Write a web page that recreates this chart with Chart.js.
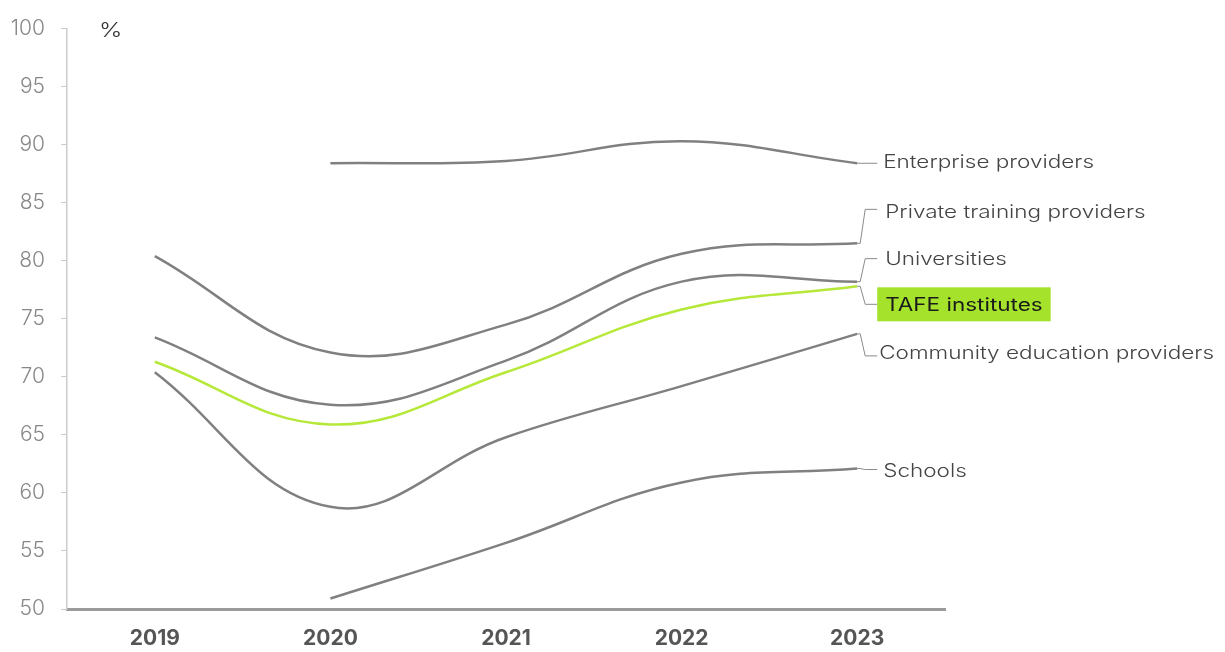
<!DOCTYPE html>
<html>
<head>
<meta charset="utf-8">
<script src="https://cdn.jsdelivr.net/npm/chart.js@4.4.1/dist/chart.umd.min.js"></script>
<style>
  html, body { margin: 0; padding: 0; background: #ffffff; }
  #wrap { position: relative; width: 1225px; height: 652px; }
</style>
</head>
<body>
<div id="wrap"><canvas id="c" width="1225" height="652"></canvas></div>
<script>
// ---- data ----
const years = ['2019', '2020', '2021', '2022', '2023'];
const enterprise = [null, 88.4, 88.6, 90.3, 88.4];
const privateTraining = [80.4, 72.1, 74.5, 80.6, 81.5];
const universities = [73.4, 67.6, 71.4, 78.2, 78.2];
const tafe = [71.3, 65.9, 70.4, 75.8, 77.8];
const community = [70.4, 58.8, 64.8, 69.2, 73.7];
const schools = [null, 50.9, 55.7, 60.9, 62.1];
const seriesNames = ['Enterprise providers', 'Private training providers', 'Universities', 'TAFE institutes', 'Community education providers', 'Schools'];
const yTicks = [50, 55, 60, 65, 70, 75, 80, 85, 90, 95, 100];

// ---- styling (not data) ----
const GREY = '#808080';
const GREEN = '#b6e83a';
const FONT = 'Inter, "Open Sans", sans-serif';
const TEXT_STRETCH = 1.25;
// label placement relative to line end: leader dy, text dy, text x offset
const labelLayout = [
  { dy: 0,   ty: -1, tx: 26 },
  { dy: -34, ty: -31, tx: 28 },
  { dy: -23, ty: -22, tx: 28 },
  { dy: 18,  ty: 18, tx: 28, box: true },
  { dy: 22,  ty: 20, tx: 22 },
  { dy: 1,   ty: 3, tx: 26 }
];

const seriesData = [enterprise, privateTraining, universities, tafe, community, schools];

function stretchedText(ctx, text, x, y) {
  ctx.save();
  ctx.translate(x, y);
  ctx.scale(TEXT_STRETCH, 1);
  ctx.fillText(text, 0, 0);
  ctx.restore();
}

const labelPlugin = {
  id: 'endLabels',
  afterDatasetsDraw(chart) {
    const ctx = chart.ctx;
    ctx.save();
    chart.data.datasets.forEach((ds, i) => {
      const meta = chart.getDatasetMeta(i);
      const pt = meta.data[meta.data.length - 1];
      const x0 = pt.x, y0 = pt.y;
      const L = labelLayout[i];
      ctx.strokeStyle = '#8a8a8a';
      ctx.lineWidth = 1;
      ctx.beginPath();
      ctx.moveTo(x0, y0);
      ctx.lineTo(x0 + 3, y0);
      ctx.lineTo(x0 + 8, y0 + L.dy);
      ctx.lineTo(x0 + 20, y0 + L.dy);
      ctx.stroke();
      ctx.textBaseline = 'middle';
      ctx.textAlign = 'left';
      const tx = x0 + L.tx, ty = y0 + L.ty;
      if (L.box) {
        ctx.font = '400 18px ' + FONT;
        const w = ctx.measureText(seriesNames[i]).width * TEXT_STRETCH;
        ctx.fillStyle = '#a5e22c';
        ctx.fillRect(x0 + 20, ty - 17, w + 16, 34);
        ctx.fillStyle = '#1a1a1a';
        stretchedText(ctx, seriesNames[i], tx, ty + 1);
      } else {
        ctx.font = '300 18px ' + FONT;
        ctx.fillStyle = '#444';
        stretchedText(ctx, seriesNames[i], tx, ty);
      }
    });
    // percent sign
    ctx.font = '300 20px ' + FONT;
    ctx.fillStyle = '#333';
    ctx.textAlign = 'left';
    ctx.textBaseline = 'middle';
    stretchedText(ctx, '%', 99, 31);
    ctx.restore();
  }
};

new Chart(document.getElementById('c'), {
  type: 'line',
  data: {
    labels: years,
    datasets: seriesData.map((d, i) => ({
      label: seriesNames[i],
      data: d,
      borderColor: i === 3 ? GREEN : GREY,
      borderWidth: 2.5,
      pointRadius: 0,
      pointHoverRadius: 0,
      tension: 0.4,
      fill: false,
      order: i === 3 ? 0 : 1
    }))
  },
  options: {
    responsive: false,
    animation: false,
    events: [],
    layout: { padding: { left: 0, right: 280, top: 23, bottom: 0 } },
    plugins: { legend: { display: false }, tooltip: { enabled: false } },
    scales: {
      x: {
        type: 'category',
        offset: true,
        grid: { display: false, drawTicks: false },
        border: { display: true, color: '#9a9a9a', width: 3 },
        ticks: { color: '#555', font: { family: FONT, size: 21, weight: 'bold' }, padding: 17 },
        afterFit(s) { s.height = 43; }
      },
      y: {
        min: 50, max: 100,
        afterBuildTicks(s) { s.ticks = yTicks.map(v => ({ value: v })); },
        grid: { drawOnChartArea: false, drawTicks: true, tickLength: 6, color: '#cccccc' },
        border: { display: true, color: '#cccccc', width: 1.5 },
        ticks: { color: '#888', font: { family: FONT, size: 21, weight: '300' }, padding: 16 },
        afterFit(s) { s.width = 67; }
      }
    }
  },
  plugins: [labelPlugin]
});
</script>
</body>
</html>
